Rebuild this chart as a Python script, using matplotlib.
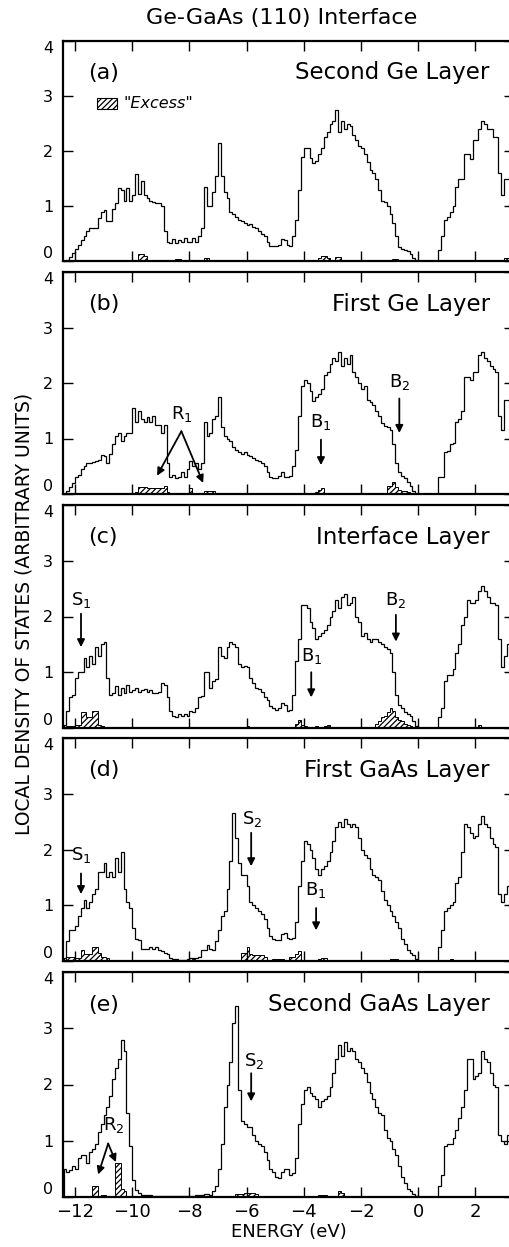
import numpy as np
import matplotlib.pyplot as plt
from matplotlib.patches import Rectangle

plt.rcParams['hatch.linewidth'] = 0.9

# histogram bins: 0.1 eV wide, first bin starts at -12.4 eV
E0 = -12.4
DE = 0.1

# local density of states, one value per bin
dos_a = [0.0, 0.02, 0.08, 0.15, 0.22, 0.3, 0.38, 0.45, 0.55, 0.6,
         0.6, 0.6, 0.78, 0.9, 0.92, 0.72, 0.72, 0.95, 1.05, 1.32,
         1.3, 1.1, 1.32, 1.1, 1.2, 1.58, 1.22, 1.45, 1.2, 1.15,
         1.1, 1.08, 1.05, 1.05, 1.0, 0.55, 0.35, 0.32, 0.4, 0.33,
         0.38, 0.35, 0.42, 0.35, 0.35, 0.42, 0.35, 0.45, 0.6, 1.35,
         1.0, 1.0, 1.25, 1.55, 2.15, 1.55, 1.25, 1.15, 0.9, 0.85,
         0.8, 0.75, 0.72, 0.7, 0.65, 0.68, 0.62, 0.6, 0.55, 0.5,
         0.45, 0.35, 0.28, 0.27, 0.27, 0.3, 0.4, 0.38, 0.3, 0.28,
         0.45, 0.75, 1.3, 1.9, 2.05, 2.05, 1.88, 1.78, 1.82, 1.95,
         2.05, 2.25, 2.35, 2.5, 2.55, 2.75, 2.35, 2.55, 2.4, 2.5,
         2.45, 2.3, 2.2, 2.1, 2.05, 1.95, 1.8, 1.65, 1.6, 1.5,
         1.3, 1.1, 1.08, 1.0, 0.85, 0.7, 0.45, 0.25, 0.22, 0.2,
         0.18, 0.12, 0.05, 0.0, 0.0, 0.0, 0.0, 0.0, 0.0, 0.0,
         0.0, 0.2, 0.45, 0.75, 0.8, 0.9, 1.0, 1.35, 1.5, 1.5,
         1.95, 1.95, 1.85, 2.2, 2.2, 2.4, 2.55, 2.5, 2.4, 2.4,
         2.25, 2.25, 1.6, 1.2, 1.5, 1.5, 1.6]

dos_b = [0.0, 0.05, 0.12, 0.2, 0.3, 0.35, 0.45, 0.5, 0.55, 0.55,
         0.58, 0.6, 0.62, 0.7, 0.68, 0.55, 0.72, 0.9, 1.05, 1.1,
         0.95, 1.05, 1.1, 1.1, 1.55, 1.3, 1.5, 1.35, 1.3, 1.38,
         1.3, 1.4, 1.25, 1.25, 1.1, 1.25, 0.55, 0.3, 0.35, 0.28,
         0.3, 0.4, 0.3, 0.45, 0.6, 0.5, 0.55, 0.45, 0.55, 1.3,
         1.05, 1.1, 1.35, 1.4, 1.75, 1.2, 1.05, 1.0, 0.95, 0.85,
         0.8, 0.75, 0.72, 0.75, 0.7, 0.68, 0.65, 0.62, 0.6, 0.55,
         0.5, 0.4, 0.3, 0.28, 0.28, 0.32, 0.4, 0.3, 0.3, 0.32,
         0.5, 0.8, 1.4, 1.95, 2.05, 2.0, 1.85, 1.68, 1.75, 1.8,
         1.9, 2.15, 2.2, 2.35, 2.45, 2.4, 2.55, 2.3, 2.45, 2.35,
         2.5, 2.2, 2.1, 2.0, 1.9, 1.95, 1.7, 1.65, 1.6, 1.5,
         1.4, 1.28, 1.22, 1.2, 1.15, 0.9, 0.55, 0.4, 0.32, 0.28,
         0.22, 0.15, 0.05, 0.0, 0.0, 0.0, 0.0, 0.0, 0.0, 0.0,
         0.0, 0.3, 0.3, 0.75, 0.78, 0.9, 0.92, 1.3, 1.35, 1.5,
         2.1, 2.1, 2.05, 2.2, 2.2, 2.5, 2.55, 2.45, 2.4, 2.3,
         2.25, 2.2, 1.4, 1.15, 1.7, 1.7, 1.75]

dos_c = [0.05, 0.3, 0.55, 0.6, 0.9, 1.0, 1.0, 1.25, 1.1, 1.3,
         1.15, 1.45, 1.3, 1.5, 1.55, 0.9, 0.6, 0.62, 0.75, 0.6,
         0.72, 0.62, 0.78, 0.65, 0.68, 0.72, 0.65, 0.68, 0.7, 0.65,
         0.68, 0.62, 0.62, 0.65, 0.8, 0.78, 0.55, 0.3, 0.22, 0.2,
         0.25, 0.22, 0.25, 0.22, 0.3, 0.28, 0.35, 0.55, 0.58, 1.0,
         1.0, 0.72, 0.85, 0.88, 1.45, 1.3, 1.25, 1.45, 1.55, 1.5,
         1.45, 1.15, 1.1, 1.12, 1.1, 0.9, 0.8, 0.72, 0.7, 0.65,
         0.55, 0.5, 0.4, 0.35, 0.32, 0.35, 0.45, 0.42, 0.3, 0.32,
         0.6, 1.2, 1.6, 2.2, 2.2, 2.15, 1.9, 1.8, 1.6, 1.65,
         1.7, 1.75, 1.85, 2.0, 2.1, 2.3, 2.15, 2.35, 2.4, 2.2,
         2.25, 2.35, 2.0, 1.9, 1.65, 1.7, 1.6, 1.55, 1.6, 1.6,
         1.55, 1.5, 1.45, 1.42, 1.35, 1.0, 0.6, 0.42, 0.35, 0.28,
         0.25, 0.22, 0.12, 0.03, 0.0, 0.0, 0.0, 0.0, 0.0, 0.0,
         0.0, 0.2, 0.35, 0.85, 0.95, 0.95, 1.05, 1.35, 1.5, 1.85,
         2.0, 2.3, 2.25, 2.25, 2.3, 2.45, 2.55, 2.45, 2.35, 2.25,
         2.25, 2.2, 1.6, 1.1, 1.3, 1.5, 1.55]

dos_d = [0.05, 0.35, 0.55, 0.55, 0.62, 0.8, 0.95, 1.1, 0.95, 1.05,
         1.2, 1.3, 1.6, 1.6, 1.75, 1.5, 1.6, 1.5, 1.85, 1.6,
         1.95, 1.3, 1.05, 0.95, 0.6, 0.4, 0.38, 0.22, 0.22, 0.22,
         0.25, 0.22, 0.25, 0.2, 0.18, 0.15, 0.12, 0.05, 0.04, 0.03,
         0.02, 0.02, 0.02, 0.03, 0.05, 0.05, 0.05, 0.08, 0.2, 0.2,
         0.28, 0.22, 0.2, 0.35, 0.55, 0.8, 0.9, 1.3, 1.8, 2.65,
         2.2, 1.75, 1.55, 1.55, 1.35, 1.05, 1.0, 0.95, 0.9, 0.85,
         0.75, 0.6, 0.45, 0.4, 0.38, 0.37, 0.48, 0.5, 0.42, 0.4,
         0.42, 0.7, 1.35, 1.8, 2.15, 2.1, 2.0, 1.85, 1.65, 1.55,
         1.65, 1.7, 1.8, 1.95, 2.15, 2.4, 2.5, 2.4, 2.55, 2.45,
         2.4, 2.45, 2.4, 2.2, 2.0, 1.9, 1.85, 1.65, 1.55, 1.5,
         1.45, 1.25, 1.1, 1.0, 0.9, 0.8, 0.7, 0.6, 0.4, 0.3,
         0.2, 0.15, 0.1, 0.03, 0.0, 0.0, 0.0, 0.0, 0.0, 0.0,
         0.0, 0.25, 0.55, 0.9, 0.95, 1.0, 1.05, 1.4, 1.5, 1.95,
         2.45, 2.4, 2.3, 2.2, 2.25, 2.45, 2.6, 2.45, 2.4, 2.2,
         2.1, 2.05, 1.2, 1.05, 1.2, 1.35, 1.4]

dos_e = [0.5, 0.45, 0.48, 0.55, 0.5, 0.7, 0.75, 0.75, 0.6, 0.8,
         0.85, 0.95, 1.15, 1.3, 1.45, 1.6, 1.8, 2.1, 2.3, 2.45,
         2.8, 2.6, 1.5, 0.9, 0.3, 0.12, 0.08, 0.04, 0.03, 0.03,
         0.03, 0.02, 0.02, 0.02, 0.02, 0.02, 0.01, 0.01, 0.01, 0.01,
         0.01, 0.01, 0.01, 0.01, 0.02, 0.02, 0.03, 0.03, 0.04, 0.05,
         0.05, 0.04, 0.1, 0.2, 0.5, 0.95, 1.6, 2.0, 2.4, 3.1,
         3.4, 1.9, 1.35, 1.3, 1.25, 1.25, 1.1, 1.0, 0.95, 0.9,
         0.8, 0.65, 0.5, 0.45, 0.35, 0.33, 0.45, 0.5, 0.5, 0.4,
         0.42, 0.7, 1.3, 1.65, 1.9, 1.95, 1.85, 1.8, 1.75, 1.6,
         1.7, 1.75, 1.8, 1.95, 2.2, 2.45, 2.7, 2.5, 2.75, 2.6,
         2.65, 2.6, 2.45, 2.4, 2.3, 2.2, 2.05, 1.85, 1.75, 1.6,
         1.5, 1.45, 1.2, 1.05, 1.0, 0.85, 0.75, 0.55, 0.35, 0.25,
         0.15, 0.1, 0.05, 0.02, 0.0, 0.0, 0.0, 0.0, 0.0, 0.0,
         0.0, 0.2, 0.4, 0.9, 0.95, 0.95, 1.05, 1.2, 1.4, 1.6,
         1.9, 2.45, 2.45, 2.1, 2.15, 2.2, 2.6, 2.45, 2.4, 2.2,
         2.0, 1.95, 1.1, 1.0, 0.95, 1.1, 1.15]

# "excess" states: bin start energy and height
exc_a_e = [-9.8, -9.7, -9.6, -8.5, -8.4, -7.5, -7.4, -3.5, -3.4, -3.3, -3.2,
           -2.9, -2.8, -0.9, -0.8, 3.0, 3.1]
exc_a_h = [0.12, 0.13, 0.1, 0.04, 0.04, 0.05, 0.05, 0.06, 0.1, 0.1, 0.06,
           0.08, 0.08, 0.03, 0.03, 0.05, 0.06]

exc_b_e = [-9.9, -9.8, -9.7, -9.6, -9.5, -9.4, -9.3, -9.2, -9.1, -9.0, -8.9, -8.8,
           -8.0, -7.5, -7.4, -7.3, -7.2, -3.6, -3.5, -3.4,
           -1.1, -1.0, -0.9, -0.8, -0.7, -0.6, -0.5, -0.4, -0.3, 2.0]
exc_b_h = [0.03, 0.12, 0.12, 0.12, 0.11, 0.11, 0.1, 0.1, 0.1, 0.1, 0.15, 0.03,
           0.1, 0.06, 0.06, 0.06, 0.06, 0.04, 0.08, 0.1,
           0.15, 0.15, 0.22, 0.12, 0.08, 0.06, 0.05, 0.04, 0.02, 0.02]

exc_c_e = [-12.3, -12.2, -12.1, -12.0, -11.9, -11.8, -11.7, -11.6, -11.5, -11.4,
           -11.3, -11.2, -11.1, -6.0, -4.3, -4.2, -4.1, -4.0, -3.6, -3.3, -3.2,
           -1.5, -1.4, -1.3, -1.2, -1.1, -1.0, -0.9, -0.8, -0.7, -0.6, -0.5,
           -0.4, -0.3, 2.1]
exc_c_h = [0.03, 0.04, 0.04, 0.05, 0.05, 0.28, 0.28, 0.2, 0.2, 0.3,
           0.3, 0.05, 0.03, 0.04, 0.08, 0.15, 0.06, 0.03, 0.03, 0.04, 0.05,
           0.08, 0.12, 0.2, 0.22, 0.28, 0.35, 0.3, 0.2, 0.15, 0.12, 0.08,
           0.05, 0.03, 0.06]

exc_d_e = [-12.3, -12.2, -12.1, -12.0, -11.9, -11.8, -11.7, -11.6, -11.5, -11.4,
           -11.3, -11.2, -11.1, -11.0, -10.9, -7.9, -6.2, -6.1, -6.0, -5.9,
           -5.8, -5.7, -5.6, -5.5, -5.4, -5.1, -5.0, -4.9, -4.8, -4.5, -4.4,
           -4.3, -4.2, -3.5, -3.4, -3.3, -1.0, -0.9, -0.8, 1.1, 1.6, 1.7, 1.8,
           1.9, 2.0]
exc_d_h = [0.07, 0.07, 0.07, 0.05, 0.05, 0.2, 0.12, 0.12, 0.12, 0.25,
           0.25, 0.15, 0.08, 0.08, 0.06, 0.03, 0.15, 0.15, 0.26, 0.12,
           0.1, 0.1, 0.1, 0.1, 0.08, 0.04, 0.04, 0.04, 0.04, 0.08, 0.08,
           0.12, 0.18, 0.04, 0.05, 0.05, 0.04, 0.04, 0.03, 0.03, 0.02, 0.02, 0.02,
           0.02, 0.02]

exc_e_e = [-11.4, -11.3, -11.1, -11.0, -10.6, -10.5, -10.4, -10.3, -6.4, -6.3,
           -6.2, -6.1, -6.0, -5.9, -5.8, -5.7, -5.5, -3.5, -3.4, -3.3, -2.8,
           -2.7, 1.2, 1.4, 1.6]
exc_e_h = [0.2, 0.2, 0.04, 0.04, 0.6, 0.6, 0.15, 0.1, 0.06, 0.06,
           0.06, 0.07, 0.07, 0.08, 0.08, 0.05, 0.02, 0.03, 0.03, 0.03, 0.1,
           0.08, 0.02, 0.02, 0.02]

letters = ['(a)', '(b)', '(c)', '(d)', '(e)']
titles = ['Second Ge Layer', 'First Ge Layer', 'Interface Layer',
          'First GaAs Layer', 'Second GaAs Layer']
x_ticks = [-12, -10, -8, -6, -4, -2, 0, 2]

# arrows: (label, label position, list of (tail, tip))
notes_a = []
notes_b = [('R$_1$', (-8.28, 1.45), [((-8.28, 1.13), (-9.13, 0.33)),
                                     ((-8.28, 1.13), (-7.52, 0.2))]),
           ('B$_1$', (-3.4, 1.3), [((-3.4, 0.98), (-3.4, 0.52))]),
           ('B$_2$', (-0.66, 2.02), [((-0.66, 1.72), (-0.66, 1.1))])]
notes_c = [('S$_1$', (-11.77, 2.3), [((-11.79, 2.05), (-11.79, 1.45))]),
           ('B$_1$', (-3.74, 1.3), [((-3.74, 1.0), (-3.74, 0.55))]),
           ('B$_2$', (-0.78, 2.3), [((-0.78, 2.03), (-0.78, 1.55))])]
notes_d = [('S$_1$', (-11.77, 1.9), [((-11.79, 1.57), (-11.79, 1.2))]),
           ('S$_2$', (-5.8, 2.55), [((-5.84, 2.3), (-5.84, 1.7))]),
           ('B$_1$', (-3.57, 1.27), [((-3.57, 0.95), (-3.57, 0.55))])]
notes_e = [('S$_2$', (-5.75, 2.42), [((-5.84, 2.2), (-5.84, 1.7))]),
           ('R$_2$', (-10.64, 1.28), [((-10.84, 0.95), (-11.19, 0.4)),
                                      ((-10.84, 0.95), (-10.57, 0.62))])]

dos_all = [dos_a, dos_b, dos_c, dos_d, dos_e]
exc_all = [(exc_a_e, exc_a_h), (exc_b_e, exc_b_h), (exc_c_e, exc_c_h),
           (exc_d_e, exc_d_h), (exc_e_e, exc_e_h)]
notes_all = [notes_a, notes_b, notes_c, notes_d, notes_e]

W, H = 510, 1247
fig = plt.figure(figsize=(W / 100, H / 100), dpi=100)

# panel top / bottom in pixels; the right frame sits just past the image edge
panel_px = [(41, 261), (272, 494), (505, 728), (738, 961), (972, 1197)]
left_px, right_px = 63, 514
px_per_ev = 28.6
xlim = (-12 - (75 - left_px) / px_per_ev, -12 + (right_px - 75) / px_per_ev)

for i, (top, bot) in enumerate(panel_px):
    ax = fig.add_axes([left_px / W, 1 - bot / H, (right_px - left_px) / W, (bot - top) / H])
    vals = np.array(dos_all[i])
    edges = E0 + DE * np.arange(len(vals) + 1)
    ax.stairs(vals, edges, color='black', lw=0.9)

    ee, hh = exc_all[i]
    exc = np.zeros(len(vals))
    idx = np.round((np.array(ee) - E0) / DE).astype(int)
    exc[idx] = hh
    ax.stairs(exc, edges, fill=True, facecolor='white', edgecolor='black',
              hatch='//////', lw=0.7)

    ax.set_xlim(*xlim)
    ax.set_ylim(0, 4)
    ax.set_xticks(x_ticks)
    ax.set_yticks([0, 1, 2, 3, 4])
    ax.tick_params(direction='in', top=True, right=True, length=7.5, width=1.0)
    ax.tick_params(axis='y', labelsize=11.5, pad=7)
    ax.tick_params(axis='x', labelsize=13, pad=4)
    yt = ax.yaxis.get_major_ticks()
    yt[0].label1.set_verticalalignment('bottom')
    yt[-1].label1.set_verticalalignment('top')
    if i < 4:
        ax.set_xticklabels([])
    for s in ax.spines.values():
        s.set_linewidth(1.6)

    ax.text(-11.55, 3.42, letters[i], fontsize=16, ha='left', va='center')
    ax.text(2.5, 3.42, titles[i], fontsize=16.5, ha='right', va='center')

    for label, lpos, arrows in notes_all[i]:
        ax.text(lpos[0], lpos[1], label, fontsize=13, ha='center', va='center')
        for tail, tip in arrows:
            ax.annotate('', xy=tip, xytext=tail,
                        arrowprops=dict(arrowstyle='-|>', color='black', lw=1.3,
                                        mutation_scale=11, shrinkA=0, shrinkB=0))

    if i == 0:
        ax.add_patch(Rectangle((-11.23, 2.76), 0.7, 0.2, facecolor='white',
                               edgecolor='black', hatch='//////', lw=0.8))
        ax.text(-10.3, 2.86, '"Excess"', fontsize=11.5, style='italic',
                ha='left', va='center')
    if i == 4:
        ax.set_xlabel('ENERGY (eV)', fontsize=13, labelpad=2)

fig.text(282 / W, 1 - 18 / H, 'Ge-GaAs (110) Interface', fontsize=16,
         ha='center', va='center')
fig.text(24 / W, 1 - 614 / H, 'LOCAL DENSITY OF STATES (ARBITRARY UNITS)',
         fontsize=13.5, rotation=90, ha='center', va='center')

fig.savefig('out.png', dpi=100)
